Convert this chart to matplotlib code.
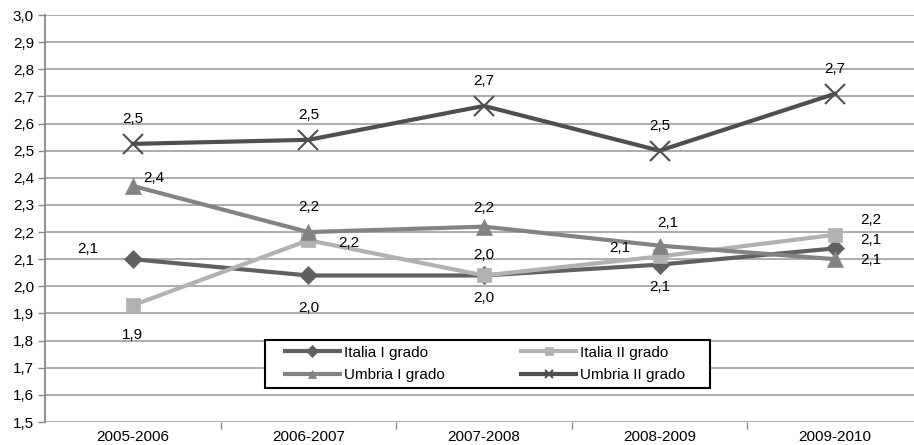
import matplotlib
matplotlib.use("Agg")
import matplotlib.pyplot as plt
from matplotlib.patches import Rectangle
from matplotlib.ticker import FixedLocator, FuncFormatter

plt.rcParams['font.family'] = ['Liberation Sans', 'DejaVu Sans']

anni = ["2005-2006", "2006-2007", "2007-2008", "2008-2009", "2009-2010"]
italia_1 = [2.10, 2.04, 2.04, 2.08, 2.14]
italia_2 = [1.93, 2.17, 2.04, 2.11, 2.19]
umbria_1 = [2.37, 2.20, 2.22, 2.15, 2.10]
umbria_2 = [2.525, 2.54, 2.665, 2.50, 2.71]

# label offsets (pixels) per point
off_i1 = [(-45, 10), (0, -33), (0, -23), (0, -22), (36, 8)]
off_i2 = [(0, -30), (40, -3), (0, 20), (-40, 8), (36, 15)]
off_u1 = [(21, 8), (0, 25), (0, 19), (8, 23), (36, -1)]
off_u2 = [(0, 25), (0, 25), (0, 25), (0, 25), (0, 25)]

W, H = 914, 445
fig = plt.figure(figsize=(W / 100, H / 100), dpi=100)
ax = fig.add_axes([45 / W, 23 / H, 878 / W, 407 / H])

x = list(range(len(anni)))
series = [
    ("Italia I grado", italia_1, "#606060", "D", 9, off_i1),
    ("Italia II grado", italia_2, "#b2b2b2", "s", 10, off_i2),
    ("Umbria I grado", umbria_1, "#838383", "^", 12, off_u1),
    ("Umbria II grado", umbria_2, "#4f4f4f", "x", 14, off_u2),
]
linee = []
for nome, vals, col, mk, ms, offs in series:
    l, = ax.plot(x, vals, color=col, lw=3, marker=mk, markersize=ms,
                 markeredgewidth=1.5 if mk == "x" else 0.5, markeredgecolor=col,
                 label=nome, zorder=3)
    linee.append(l)
    for xi, v, o in zip(x, vals, offs):
        ax.annotate(f"{v:.1f}".replace(".", ","), (xi, v), xytext=o,
                    textcoords="offset pixels", ha="center", va="center",
                    fontsize=11, color="black", zorder=4)

ax.set_xlim(-0.5, 4.5)
ax.set_ylim(1.5, 3.0)
ax.yaxis.set_major_locator(FixedLocator([1.5 + i * 0.1 for i in range(16)]))
ax.yaxis.set_major_formatter(FuncFormatter(lambda v, p: f"{v:.1f}".replace(".", ",")))
ax.set_xticks(x)
ax.set_xticklabels(anni)
ax.set_xticks([0.5, 1.5, 2.5, 3.5], minor=True)
ax.tick_params(axis="x", which="major", length=0, pad=6, labelsize=11)
ax.tick_params(axis="x", which="minor", length=5, color="#888888", width=1)
ax.tick_params(axis="y", length=5, color="#888888", width=1, labelsize=11, pad=3)
ax.grid(axis="y", color="#a6a6a6", lw=1.3)
for s in ["top", "right", "bottom"]:
    ax.spines[s].set_visible(False)
ax.spines["left"].set_color("#888888")
ax.spines["left"].set_linewidth(1.3)
ax.set_axisbelow(True)

# legend box
box = Rectangle((265 / W, (H - 388) / H), 445 / W, 48 / H, transform=fig.transFigure,
                facecolor="white", edgecolor="black", lw=1.5, zorder=5)
ax.add_artist(box)
box.set_clip_on(False)

ordine = [linee[0], linee[2], linee[1], linee[3]]
leg = fig.legend(ordine, [l.get_label() for l in ordine],
                 loc="center", bbox_to_anchor=(485 / W, (H - 364) / H),
                 ncol=2, frameon=False, fontsize=11,
                 handlelength=3.6, columnspacing=5.0, borderpad=0.3,
                 labelspacing=0.55, handletextpad=0.26)
leg.set_zorder(6)
for h in leg.legend_handles:
    h.set_markersize(6)

fig.savefig("out.png", dpi=100)
